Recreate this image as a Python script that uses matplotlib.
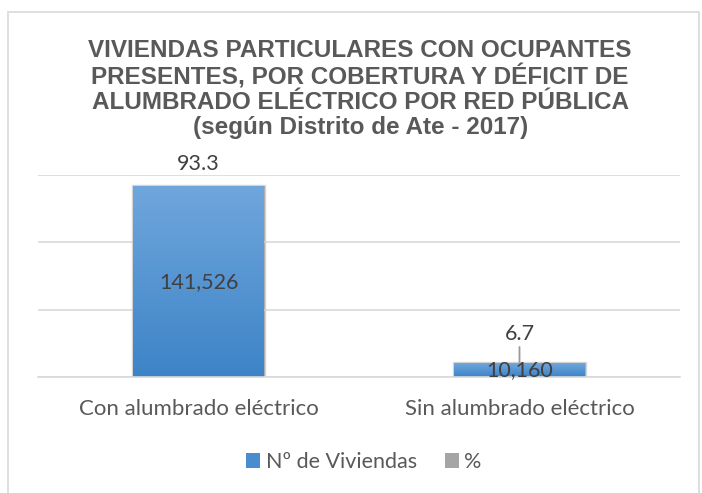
import numpy as np
import matplotlib.pyplot as plt
from matplotlib.patches import Rectangle
from matplotlib.colors import LinearSegmentedColormap

# Datos
categorias = ['Con alumbrado eléctrico', 'Sin alumbrado eléctrico']
viviendas = [141526, 10160]
porcentaje = [93.3, 6.7]
titulo = ('VIVIENDAS PARTICULARES CON OCUPANTES\n'
          'PRESENTES, POR COBERTURA Y DÉFICIT DE\n'
          'ALUMBRADO ELÉCTRICO POR RED PÚBLICA\n'
          '(según Distrito de Ate - 2017)')

fig = plt.figure(figsize=(7.02, 4.93), dpi=100)

# marco del grafico
fig.patches.append(Rectangle((8 / 702, -0.01), 691 / 702, 1 - 12 / 493 + 0.01,
                             transform=fig.transFigure, fill=False,
                             edgecolor='#d9d9d9', linewidth=1.2))

ax = fig.add_axes([38 / 702, 1 - 377 / 493, 642 / 702, 202 / 493])
ax2 = ax.twinx()
ax.set_zorder(ax2.get_zorder() + 1)
ax.patch.set_visible(False)

x = np.arange(len(categorias))
ancho = 0.405

# serie % en eje secundario (queda detras)
ax2.bar(x, porcentaje, ancho, color='#a5a5a5', edgecolor='#9a9a9a', linewidth=1)
ax2.set_ylim(0, 150000 * porcentaje[0] / viviendas[0])
ax2.axis('off')

# serie Nº de Viviendas con degradado
grad = LinearSegmentedColormap.from_list('azul', ['#3d84c7', '#6fa6dc'])
barras = ax.bar(x, viviendas, ancho, color='#4f90d2', linewidth=0)
for b in barras:
    x0, y0 = b.get_x(), b.get_y()
    w, h = b.get_width(), b.get_height()
    sombra = Rectangle((x0, y0), w, h, facecolor='none', edgecolor='#bfbfbf',
                       linewidth=2.5, alpha=0.5, zorder=1.5)
    ax.add_patch(sombra)
    img = ax.imshow(np.linspace(0, 1, 100).reshape(-1, 1), cmap=grad,
                    extent=[x0, x0 + w, y0, y0 + h], origin='lower',
                    aspect='auto', zorder=2)
    img.set_clip_path(b)

ax.set_xlim(-0.5, 1.5)
ax.set_ylim(0, 150000)
ax.set_yticks([0, 50000, 100000, 150000])
ax.yaxis.grid(True, color='#d9d9d9', linewidth=1.2)
ax.set_axisbelow(True)
ax.tick_params(axis='y', left=False, labelleft=False)
ax.tick_params(axis='x', bottom=False, pad=12)
for s in ['top', 'right', 'left']:
    ax.spines[s].set_visible(False)
ax.spines['bottom'].set_color('#d9d9d9')
ax.spines['bottom'].set_linewidth(1.2)
ax.set_xticks(x)
ax.set_xticklabels(categorias, fontsize=16, color='#595959', family='Lato')

# etiquetas de datos
for xi, v in zip(x, viviendas):
    ax.text(xi, v / 2, f'{v:,}', ha='center', va='center', fontsize=15.5,
            color='#404040', family='Lato', zorder=5)

ax.annotate(f'{porcentaje[0]}', xy=(x[0], viviendas[0]), xytext=(0, 16),
            textcoords='offset points', ha='center', va='center',
            fontsize=15.5, color='#404040', family='Lato')
ax.annotate(f'{porcentaje[1]}', xy=(x[1], viviendas[1]), xytext=(0, 21),
            textcoords='offset points', ha='center', va='center',
            fontsize=15.5, color='#404040', family='Lato', zorder=6,
            arrowprops=dict(arrowstyle='-', color='#999999', lw=1.3,
                            shrinkA=13, shrinkB=0))

fig.text(0.513, 1 - 89 / 493, titulo, ha='center', va='center',
         fontsize=17.5, fontweight='bold', color='#595959',
         family='Liberation Sans', linespacing=1.1)

# leyenda
h1 = Rectangle((0, 0), 1, 1, facecolor='#4a8cd0')
h2 = Rectangle((0, 0), 1, 1, facecolor='#a5a5a5')
fig.legend([h1, h2], ['Nº de Viviendas', '%'], loc='center',
           bbox_to_anchor=(364 / 702, 1 - 462 / 493), ncol=2, frameon=False,
           prop={'family': 'Lato', 'size': 15.5}, labelcolor='#595959',
           handlelength=0.65, handleheight=0.65, handletextpad=0.25,
           columnspacing=1.3)

fig.savefig('out.png', dpi=100)
